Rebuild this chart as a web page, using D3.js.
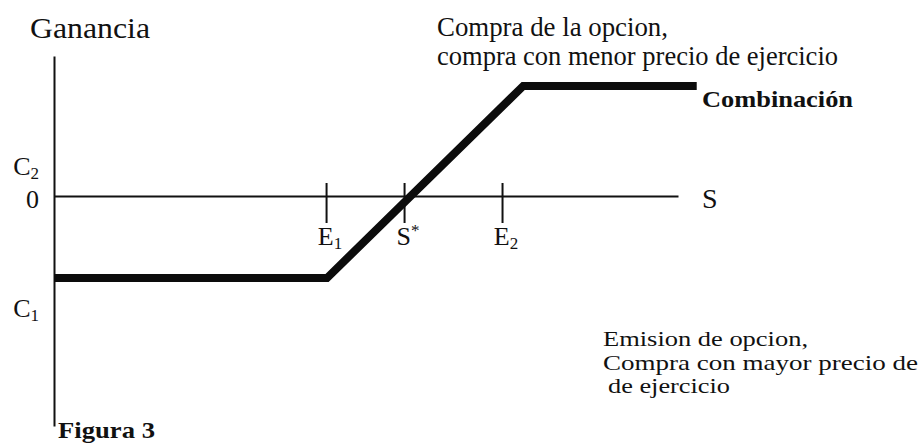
<!DOCTYPE html>
<html>
<head>
<meta charset="utf-8">
<script src="https://cdn.jsdelivr.net/npm/d3@7"></script>
<style>
  body { margin: 0; background: #fff; }
  text { font-family: "Liberation Serif", "Times New Roman", serif; fill: #111; }
</style>
</head>
<body>
<div id="chart"></div>
<script>
// payoff of the combination (S on x, ganancia on y)
const sPoints = [0, 43.75, 75.2, 103];
const payoff = [-8.2, -8.2, 11, 11];

// marks on the S axis
const tickNames = ["E", "S", "E"];
const tickSubs = ["1", "", "2"];
const tickSups = ["", "*", ""];
const tickValues = [43.6, 56.1, 71.8];

// labels on the ganancia axis (value at the label baseline)
const yNames = ["C", "0", "C"];
const ySubs = ["2", "", "1"];
const yValues = [2.1, -1.2, -12.1];

// lower annotation, one entry per line, with the width each line takes
const lowLines = ["Emision de opcion,", "Compra con mayor precio de", "de ejercicio"];
const lowWidths = [205, 315, 122];

const width = 921, height = 446;

const svg = d3.select("#chart").append("svg")
  .attr("width", width)
  .attr("height", height)
  .style("background-color", "#FFFFFF");

let x = d3.scaleLinear().domain([0, 100]).range([54, 678]);
let y = d3.scaleLinear().domain([-23, 14]).range([426, 56]);

// y axis, no ticks
svg.append("g")
  .attr("transform", "translate(" + x(0) + ",0)")
  .call(d3.axisLeft(y).tickValues([]).tickSizeOuter(0))
  .select(".domain").attr("stroke", "#111").attr("stroke-width", 2);

// S axis with the E1, S*, E2 marks crossing it
let xAxis = svg.append("g")
  .attr("transform", "translate(0," + y(0) + ")")
  .call(d3.axisBottom(x).tickValues(tickValues).tickFormat("").tickSize(27).tickSizeOuter(0));
xAxis.select(".domain").attr("stroke", "#111").attr("stroke-width", 1.8);
xAxis.selectAll(".tick line").attr("y1", -13).attr("stroke", "#111").attr("stroke-width", 2);

// tick labels
let tl = svg.append("g").selectAll("text")
  .data(tickValues)
  .enter().append("text")
    .attr("x", function(d) { return x(d) + 4; })
    .attr("y", y(0) + 49)
    .attr("text-anchor", "middle")
    .style("font-size", "26px");
tl.append("tspan").text(function(d, i) { return tickNames[i]; });
tl.append("tspan")
  .attr("dy", function(d, i) { return tickSubs[i] ? 4 : -9; })
  .style("font-size", "17px")
  .text(function(d, i) { return tickSubs[i] || tickSups[i]; });

// labels on the vertical axis
let yl = svg.append("g").selectAll("text")
  .data(yValues)
  .enter().append("text")
    .attr("x", 39)
    .attr("y", function(d) { return y(d); })
    .attr("text-anchor", "end")
    .style("font-size", "26px");
yl.append("tspan").text(function(d, i) { return yNames[i]; });
yl.append("tspan")
  .attr("dy", 4)
  .style("font-size", "17px")
  .text(function(d, i) { return ySubs[i]; });

// the combination payoff
let line = d3.line()
  .x(function(d, i) { return x(d); })
  .y(function(d, i) { return y(payoff[i]); });

svg.append("path")
  .datum(sPoints)
  .attr("d", line)
  .attr("fill", "none")
  .attr("stroke", "#0c0c0c")
  .attr("stroke-width", 8)
  .attr("stroke-linejoin", "miter");

// titles and annotations
svg.append("text")
  .attr("x", 30).attr("y", 38)
  .attr("textLength", 120).attr("lengthAdjust", "spacingAndGlyphs")
  .style("font-size", "30px")
  .text("Ganancia");

svg.append("text")
  .attr("x", 702).attr("y", 208)
  .style("font-size", "28px")
  .text("S");

svg.append("text")
  .attr("x", 437).attr("y", 36)
  .attr("textLength", 231).attr("lengthAdjust", "spacingAndGlyphs")
  .style("font-size", "26.5px")
  .text("Compra de la opcion,");

svg.append("text")
  .attr("x", 437).attr("y", 65)
  .attr("textLength", 401).attr("lengthAdjust", "spacingAndGlyphs")
  .style("font-size", "26.5px")
  .text("compra con menor precio de ejercicio");

svg.append("text")
  .attr("x", 702).attr("y", 107)
  .attr("textLength", 151).attr("lengthAdjust", "spacingAndGlyphs")
  .style("font-size", "24px")
  .style("font-weight", "bold")
  .text("Combinación");

svg.append("g").selectAll("text")
  .data(lowLines)
  .enter().append("text")
    .attr("x", function(d, i) { return i == 2 ? 608 : 603; })
    .attr("y", function(d, i) { return 346 + i * 23.5; })
    .attr("textLength", function(d, i) { return lowWidths[i]; })
    .attr("lengthAdjust", "spacingAndGlyphs")
    .style("font-size", "21px")
    .text(function(d) { return d; });

svg.append("text")
  .attr("x", 58).attr("y", 438)
  .attr("textLength", 97).attr("lengthAdjust", "spacingAndGlyphs")
  .style("font-size", "24px")
  .style("font-weight", "bold")
  .text("Figura 3");
</script>
</body>
</html>
